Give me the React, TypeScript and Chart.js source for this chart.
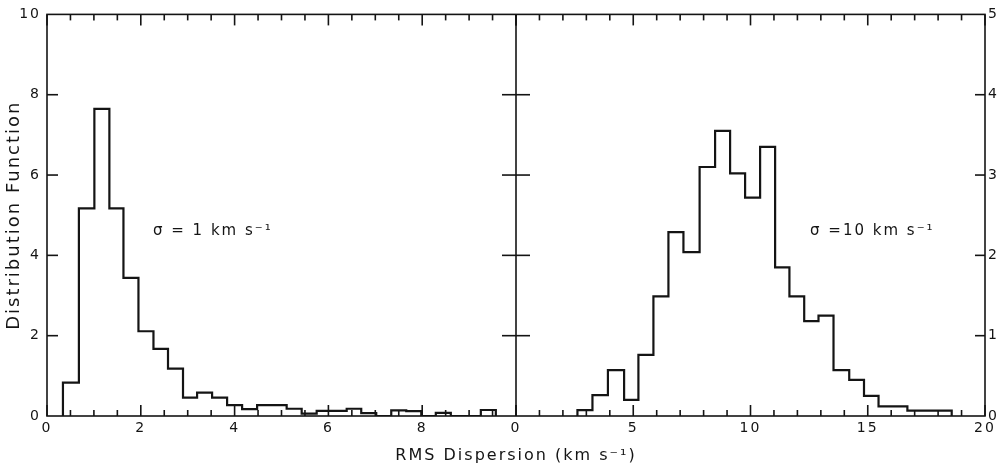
import React, { useEffect, useRef } from 'react';
import { Chart, registerables } from 'chart.js';

Chart.register(...registerables);

const INK = '#141414';
const FONT = 'DejaVu Sans';

// Left panel (sigma = 1 km/s): bin edges and heights
const leftEdges = [0.34, 0.68, 1.01, 1.33, 1.63, 1.95, 2.27, 2.58, 2.9, 3.2, 3.52, 3.84, 4.16, 4.48, 4.8, 5.11, 5.43, 5.75, 6.07, 6.39, 6.7, 7.02, 7.34, 7.66, 7.98, 8.29, 8.61, 8.93, 9.25, 9.57];
const leftValues = [0.83, 5.17, 7.65, 5.17, 3.44, 2.11, 1.67, 1.18, 0.46, 0.58, 0.46, 0.27, 0.17, 0.27, 0.27, 0.18, 0.06, 0.13, 0.13, 0.18, 0.07, 0, 0.14, 0.12, 0, 0.08, 0, 0, 0.15];

// Right panel (sigma = 10 km/s): bin edges and heights
const rightEdges = [2.62, 3.26, 3.92, 4.61, 5.22, 5.86, 6.5, 7.14, 7.83, 8.49, 9.13, 9.77, 10.41, 11.05, 11.66, 12.29, 12.9, 13.54, 14.21, 14.84, 15.46, 16.08, 16.69, 17.32, 17.96, 18.58];
const rightValues = [0.074, 0.26, 0.57, 0.2, 0.76, 1.49, 2.29, 2.04, 3.1, 3.55, 3.02, 2.72, 3.35, 1.85, 1.49, 1.18, 1.25, 0.57, 0.45, 0.25, 0.12, 0.12, 0.066, 0.066, 0.066];

// Axis ranges / tick steps
const leftXRange = [0, 10];
const rightXRange = [0, 20];
const leftYRange = [0, 10];
const rightYRange = [0, 5];
const leftXStep = 0.5;
const rightXStep = 1;
const leftYStep = 2;
const rightYStep = 1;
const leftXLabelEvery = 2;
const rightXLabelEvery = 5;

// Text
const xTitle = 'RMS Dispersion (km s⁻¹)';
const yTitle = 'Distribution Function';
const leftNote = 'σ = 1 km s⁻¹';
const rightNote = 'σ =10 km s⁻¹';
const leftNoteAt = [2.26, 4.6];
const rightNoteAt = [12.54, 2.3];

function stepPoints(edges: number[], values: number[]) {
  const pts: { x: number; y: number }[] = [{ x: edges[0], y: 0 }];
  values.forEach((v, i) => pts.push({ x: edges[i], y: v }));
  pts.push({ x: edges[edges.length - 1], y: values[values.length - 1] });
  pts.push({ x: edges[edges.length - 1], y: 0 });
  return pts;
}

const near = (a: number, b: number) => Math.abs(a - b) < 1e-6;
const isMultiple = (v: number, m: number) => near(v / m, Math.round(v / m));

const framePlugin = {
  id: 'frame',
  beforeDraw(chart: any) {
    (chart.ctx as any).letterSpacing = '2px';
  },
  afterDraw(chart: any) {
    const { ctx, chartArea: a, scales } = chart;
    const x1 = scales.x1, x2 = scales.x2, y = scales.y, y2 = scales.y2;
    ctx.save();
    ctx.strokeStyle = INK;
    ctx.lineWidth = 1.6;
    const seg = (ax: number, ay: number, bx: number, by: number) => {
      ctx.beginPath();
      ctx.moveTo(ax, ay);
      ctx.lineTo(bx, by);
      ctx.stroke();
    };
    ctx.strokeRect(a.left, a.top, a.right - a.left, a.bottom - a.top);
    const mid = x1.right;
    seg(mid, a.top, mid, a.bottom);
    const major = 11, minor = 6;
    for (const t of x1.ticks) {
      const px = x1.getPixelForValue(t.value);
      const len = isMultiple(t.value, leftXLabelEvery) ? major : minor;
      seg(px, a.bottom, px, a.bottom - len);
      seg(px, a.top, px, a.top + len);
    }
    for (const t of x2.ticks) {
      const px = x2.getPixelForValue(t.value);
      const len = isMultiple(t.value, rightXLabelEvery) ? major : minor;
      seg(px, a.bottom, px, a.bottom - len);
      seg(px, a.top, px, a.top + len);
    }
    for (const t of y.ticks) {
      if (t.value <= leftYRange[0] || t.value >= leftYRange[1]) continue;
      const py = y.getPixelForValue(t.value);
      seg(a.left, py, a.left + 11, py);
      seg(mid - 14, py, mid + 14, py);
    }
    for (const t of y2.ticks) {
      if (t.value <= rightYRange[0] || t.value >= rightYRange[1]) continue;
      const py = y2.getPixelForValue(t.value);
      seg(a.right - 10, py, a.right, py);
    }
    // annotations
    ctx.fillStyle = INK;
    ctx.font = `15px "${FONT}"`;
    ctx.textAlign = 'left';
    ctx.textBaseline = 'middle';
    (ctx as any).letterSpacing = '2px';
    ctx.fillText(leftNote, x1.getPixelForValue(leftNoteAt[0]), y.getPixelForValue(leftNoteAt[1]));
    ctx.fillText(rightNote, x2.getPixelForValue(rightNoteAt[0]), y2.getPixelForValue(rightNoteAt[1]));
    ctx.restore();
  },
};

export default function App() {
  const ref = useRef<HTMLCanvasElement>(null);
  useEffect(() => {
    if (!ref.current) return;
    const tickFont = { family: FONT, size: 14 };
    const chart = new Chart(ref.current, {
      type: 'line',
      data: {
        datasets: [
          {
            data: stepPoints(leftEdges, leftValues),
            xAxisID: 'x1',
            yAxisID: 'y',
            stepped: true,
            borderColor: INK,
            borderWidth: 2.2,
            pointRadius: 0,
            fill: false,
            tension: 0,
          },
          {
            data: stepPoints(rightEdges, rightValues),
            xAxisID: 'x2',
            yAxisID: 'y2',
            stepped: true,
            borderColor: INK,
            borderWidth: 2.2,
            pointRadius: 0,
            fill: false,
            tension: 0,
          },
        ],
      } as any,
      options: {
        responsive: false,
        maintainAspectRatio: false,
        devicePixelRatio: 1,
        animation: false,
        events: [],
        layout: { padding: { top: 13, left: 0, right: 0, bottom: 0 } },
        plugins: {
          legend: { display: false },
          tooltip: { enabled: false },
          title: {
            display: true,
            position: 'bottom',
            fullSize: false,
            text: xTitle,
            color: INK,
            font: { family: FONT, size: 16, weight: 'normal' },
            padding: { top: 4.4, bottom: 3.4 },
          },
        },
        scales: {
          x1: {
            type: 'linear',
            position: 'bottom',
            stack: 'xs',
            stackWeight: 1,
            min: leftXRange[0],
            max: leftXRange[1],
            grid: { display: false, drawTicks: false },
            border: { display: false },
            afterFit: (s: any) => { s.height = 26; },
            ticks: {
              stepSize: leftXStep,
              autoSkip: false,
              maxRotation: 0,
              padding: 4,
              color: INK,
              font: tickFont,
              callback: (v: any) => (isMultiple(v, leftXLabelEvery) && v < leftXRange[1] ? String(v) : ''),
            },
          },
          x2: {
            type: 'linear',
            position: 'bottom',
            stack: 'xs',
            stackWeight: 1,
            min: rightXRange[0],
            max: rightXRange[1],
            grid: { display: false, drawTicks: false },
            border: { display: false },
            afterFit: (s: any) => { s.height = 26; },
            ticks: {
              stepSize: rightXStep,
              autoSkip: false,
              maxRotation: 0,
              padding: 4,
              color: INK,
              font: tickFont,
              callback: (v: any) => (isMultiple(v, rightXLabelEvery) ? String(v) : ''),
            },
          },
          y: {
            type: 'linear',
            position: 'left',
            min: leftYRange[0],
            max: leftYRange[1],
            grid: { display: false, drawTicks: false },
            border: { display: false },
            afterFit: (s: any) => { s.width = 47; },
            title: {
              display: true,
              text: yTitle,
              color: INK,
              font: { family: FONT, size: 18, weight: 'normal' },
              padding: { top: 4, bottom: 0 },
            },
            ticks: { stepSize: leftYStep, padding: 6, color: INK, font: tickFont },
          },
          y2: {
            type: 'linear',
            position: 'right',
            min: rightYRange[0],
            max: rightYRange[1],
            grid: { display: false, drawTicks: false },
            border: { display: false },
            afterFit: (s: any) => { s.width = 21; },
            ticks: { stepSize: rightYStep, padding: 3, color: INK, font: tickFont },
          },
        },
      } as any,
      plugins: [framePlugin],
    });
    return () => chart.destroy();
  }, []);
  return (
    <div style={{ position: 'absolute', left: 0, top: 0, width: 1006, height: 469, background: '#fff' }}>
      <canvas ref={ref} width={1006} height={469} style={{ display: 'block' }} />
    </div>
  );
}
